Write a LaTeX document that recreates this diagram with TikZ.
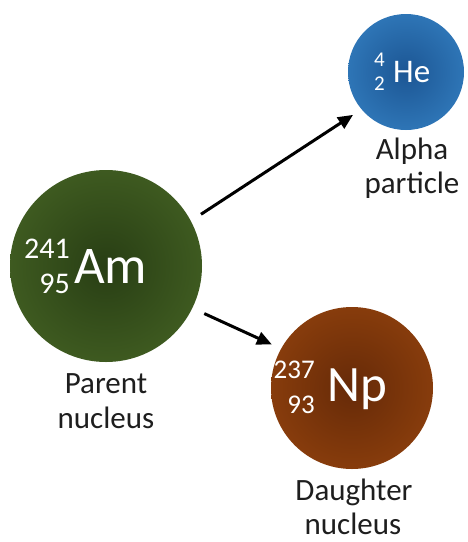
\documentclass[tikz,border=0pt]{standalone}
\usepackage{fontspec}
\setmainfont{Carlito}
\usetikzlibrary{arrows.meta}
\definecolor{amout}{RGB}{62,90,32}
\definecolor{amin}{RGB}{40,62,20}
\definecolor{heout}{RGB}{46,117,182}
\definecolor{hein}{RGB}{28,86,148}
\definecolor{npout}{RGB}{135,60,12}
\definecolor{npin}{RGB}{102,42,8}
\definecolor{lbltext}{RGB}{30,30,30}
\begin{document}
\begin{tikzpicture}[x=1pt,y=-1pt,
  nucleus/.style={circle, draw=none, inner sep=0pt, shading=radial},
  sym/.style={text=white, inner sep=0pt, anchor=west},
  num/.style={text=white, inner sep=0pt},
  lbl/.style={text=lbltext, inner sep=0pt, anchor=base, font=\fontsize{31}{36}\selectfont},
  arr/.style={line width=3pt, -{Triangle[length=15pt,width=13pt]}}
]
\useasboundingbox (0,0) rectangle (467,542);
% nuclei
\node[nucleus, minimum size=192pt, inner color=amin, outer color=amout] (am) at (106,266) {};
\node[nucleus, minimum size=116pt, inner color=hein, outer color=heout] (he) at (406,72) {};
\node[nucleus, minimum size=162pt, inner color=npin, outer color=npout] (np) at (352,388) {};
% symbols
\node[sym, font=\fontsize{53}{60}\selectfont] (amsym) at (74,266) {Am};
\node[num, anchor=north east, font=\fontsize{30}{34}\selectfont] (ama) at (70,239) {241};
\node[num, anchor=south east, font=\fontsize{30}{34}\selectfont] (amz) at (70,294) {95};
\node[sym, font=\fontsize{33}{40}\selectfont] (hesym) at (393,72) {He};
\node[num, anchor=north east, font=\fontsize{21}{24}\selectfont] (hea) at (385,53) {4};
\node[num, anchor=south east, font=\fontsize{21}{24}\selectfont] (hez) at (385,91) {2};
\node[sym, font=\fontsize{51}{60}\selectfont] (npsym) at (327,389) {Np};
\node[num, anchor=north east, font=\fontsize{27}{30}\selectfont] (npa) at (315,361) {237};
\node[num, anchor=south east, font=\fontsize{27}{30}\selectfont] (npz) at (315,414) {93};
% labels
\node[lbl] (lparent1) at (106,393) {Parent};
\node[lbl] (lparent2) at (106,428) {nucleus};
\node[lbl] (lalpha1) at (412,159) {Alpha};
\node[lbl] (lalpha2) at (412,193) {particle};
\node[lbl] (ldaughter1) at (354,500) {Daughter};
\node[lbl] (ldaughter2) at (353,534) {nucleus};
% arrows
\draw[arr, shorten <=12pt, shorten >=10pt] (am.28) -- (he.220);
\draw[arr, shorten <=13pt, shorten >=10pt] (am.-26) -- (np.151);
\end{tikzpicture}
\end{document}
